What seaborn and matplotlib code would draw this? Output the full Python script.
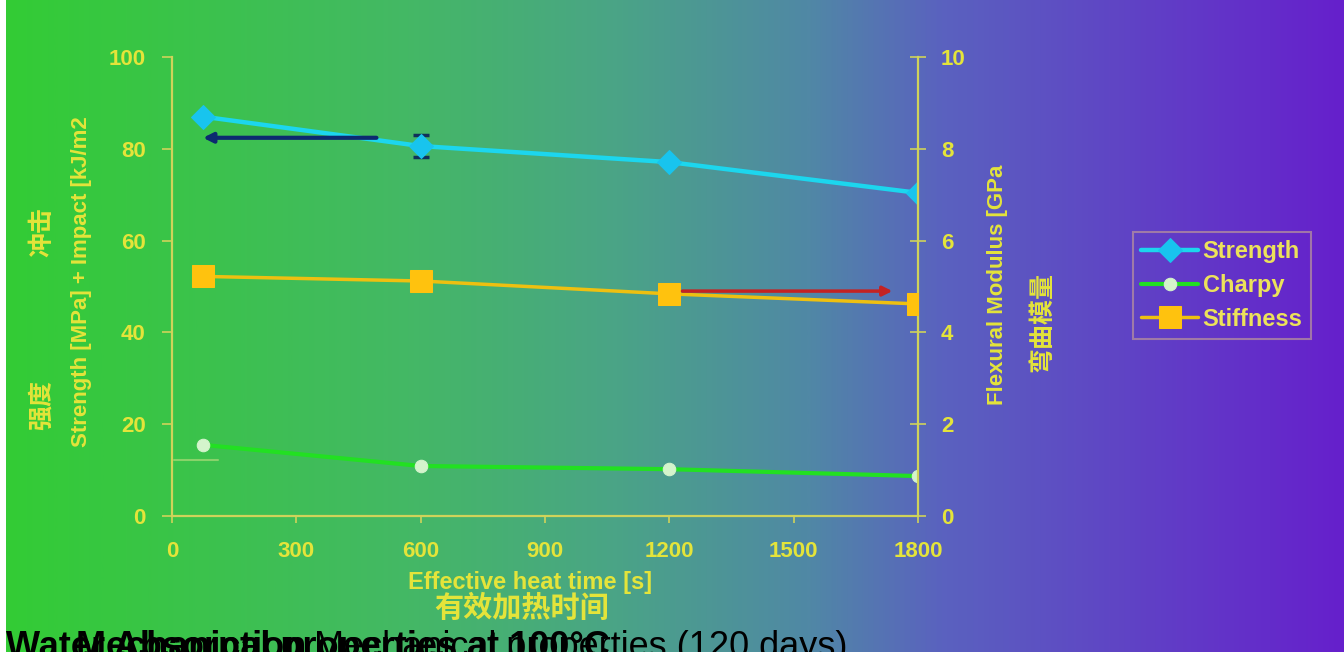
import numpy as np
import pandas as pd
import matplotlib
matplotlib.use('Agg')
import matplotlib.pyplot as plt
import seaborn as sns
from matplotlib.colors import LinearSegmentedColormap

sns.set_theme(style='white')
plt.rcParams['font.family'] = ['Liberation Sans', 'Noto Sans CJK SC', 'DejaVu Sans']
plt.rcParams['axes.unicode_minus'] = False

# 数据
heat_time = [75, 600, 1200, 1800]
strength = [87.0, 80.6, 77.1, 70.4]
charpy = [15.5, 10.9, 10.2, 8.7]
stiffness = [5.22, 5.12, 4.84, 4.62]
strength_err = [0, 2.3, 0, 0]

# 图中的两条箭头和一条淡线
blue_arrow_x = [500, 68]
blue_arrow_y = 82.4
red_arrow_x = [1225, 1745]
red_arrow_y = 4.9
faint_x = [5, 110]
faint_y = 12.3

x_ticks = [0, 300, 600, 900, 1200, 1500, 1800]
left_ticks = [0, 20, 40, 60, 80, 100]
right_ticks = [0, 2, 4, 6, 8, 10]

df = pd.DataFrame({'time': heat_time, 'Strength': strength,
                   'Charpy': charpy, 'Stiffness': stiffness})

W, H = 1344, 652
fig = plt.figure(figsize=(W / 100, H / 100), dpi=100, facecolor='white')

# 背景渐变
bg = fig.add_axes([6 / W, 0, 1 - 6 / W, 1], zorder=0)
cmap = LinearSegmentedColormap.from_list('bg', [
    (0.0, '#33cc35'), (0.3, '#44b865'), (0.45, '#4aa585'),
    (0.6, '#5088a5'), (0.7, '#5a62bf'), (1.0, '#6620cc')])
bg.imshow(np.linspace(0, 1, 512)[None, :], aspect='auto', cmap=cmap,
          extent=[0, 1, 0, 1])
bg.axis('off')

yellow = '#e4e43a'
spine_c = '#cfd35a'
cjk = ['Noto Sans CJK SC', 'DejaVu Sans']

ax = fig.add_axes([172 / W, 1 - 516 / H, (918 - 172) / W, (516 - 57) / H], zorder=1)
ax.patch.set_visible(False)
ax2 = ax.twinx()
ax2.patch.set_visible(False)

ax.errorbar(heat_time, strength, yerr=strength_err, fmt='none', ecolor='#10305a',
            elinewidth=2.5, capsize=6, capthick=2.5, zorder=2)
sns.lineplot(data=df, x='time', y='Strength', ax=ax, color='#1cd6ee', lw=3.2,
             marker='D', markersize=12, markerfacecolor='#18c4ee',
             markeredgecolor='#18c4ee', label='Strength', zorder=3)
sns.lineplot(data=df, x='time', y='Charpy', ax=ax, color='#22e022', lw=3,
             marker='o', markersize=9, markerfacecolor='#d4f4cc',
             markeredgecolor='#d4f4cc', label='Charpy', zorder=3)
sns.lineplot(data=df, x='time', y='Stiffness', ax=ax2, color='#eec010', lw=2.5,
             marker='s', markersize=16, markerfacecolor='#ffc20e',
             markeredgecolor='#ffc20e', label='Stiffness', zorder=3)

ax.plot(faint_x, [faint_y, faint_y], color='#e8e890', lw=1.5, alpha=0.45, zorder=2)
ax.annotate('', xy=(blue_arrow_x[1], blue_arrow_y), xytext=(blue_arrow_x[0], blue_arrow_y),
            arrowprops=dict(arrowstyle='-|>', color='#0c2a70', lw=3, mutation_scale=14))
ax2.annotate('', xy=(red_arrow_x[1], red_arrow_y), xytext=(red_arrow_x[0], red_arrow_y),
             arrowprops=dict(arrowstyle='-|>', color='#c42222', lw=2.5, mutation_scale=14))

ax.set_xlim(0, 1800)
ax.set_ylim(0, 100)
ax2.set_ylim(0, 10)
ax.set_xticks(x_ticks)
ax.set_yticks(left_ticks)
ax2.set_yticks(right_ticks)

for a in (ax, ax2):
    a.set_xlabel('')
    a.set_ylabel('')
    if a.get_legend() is not None:
        a.get_legend().remove()
    a.spines['top'].set_visible(False)
    for s in a.spines.values():
        s.set_color(spine_c)
        s.set_linewidth(1.6)
ax.spines['right'].set_visible(False)
ax2.spines['left'].set_visible(False)
ax2.spines['bottom'].set_visible(False)

ax.tick_params(axis='y', direction='out', length=7, width=1.2, color=spine_c,
               pad=12, labelsize=16, labelcolor=yellow, left=True)
ax.tick_params(axis='x', direction='out', length=5, width=1.2, color=spine_c,
               pad=13, labelsize=16, labelcolor=yellow, bottom=True)
ax2.tick_params(axis='y', direction='inout', length=11, width=1.2, color=spine_c,
                pad=11, labelsize=16, labelcolor=yellow, right=True)
for lab in ax.get_xticklabels() + ax.get_yticklabels() + ax2.get_yticklabels():
    lab.set_fontweight('bold')

# 坐标轴标题
fig.text(530 / W, 1 - 583 / H, 'Effective heat time [s]', color=yellow, fontsize=17,
         fontweight='bold', ha='center', va='center')
fig.text(522 / W, 1 - 608 / H, '有效加热时间', color=yellow, fontsize=21,
         fontweight='bold', ha='center', va='center', family=cjk)
fig.text(82 / W, 1 - 282 / H, 'Strength [MPa] + Impact [kJ/m2', color=yellow,
         fontsize=16, fontweight='bold', rotation=90, ha='center', va='center')
fig.text(42 / W, 1 - 232 / H, '冲击', color=yellow, fontsize=18, fontweight='bold',
         rotation=90, ha='center', va='center', family=cjk)
fig.text(42 / W, 1 - 405 / H, '强度', color=yellow, fontsize=18, fontweight='bold',
         rotation=90, ha='center', va='center', family=cjk)
fig.text(997 / W, 1 - 285 / H, 'Flexural Modulus [GPa', color=yellow, fontsize=16,
         fontweight='bold', rotation=90, ha='center', va='center')
fig.text(1042 / W, 1 - 322 / H, '弯曲模量', color=yellow, fontsize=18,
         fontweight='bold', rotation=90, ha='center', va='center', family=cjk)

# 图例
h1, l1 = ax.get_legend_handles_labels()
h2, l2 = ax2.get_legend_handles_labels()
leg = fig.legend(h1 + h2, l1 + l2, loc='upper left',
                 bbox_to_anchor=(1133 / W, 1 - 232 / H), borderaxespad=0,
                 frameon=True, fancybox=False, facecolor='none',
                 edgecolor='#b08aa0', fontsize=17, handlelength=2.4,
                 handletextpad=0.2, labelspacing=0.45, borderpad=0.35)
leg.get_frame().set_linewidth(1.5)
for t in leg.get_texts():
    t.set_color('#ece25a')
    t.set_fontweight('bold')

# 底部重叠的标题文字（原图即为重叠）
fig.text(6 / W, -5 / H, 'Water Absorption', color='black', fontsize=26,
         fontweight='bold', ha='left', va='baseline')
fig.text(76 / W, -5 / H, 'Mechanical properties at 100°C', color='black',
         fontsize=26, fontweight='bold', ha='left', va='baseline')
fig.text(314 / W, -5 / H, 'Mechanical properties (120 days)', color='black',
         fontsize=26, ha='left', va='baseline')

fig.savefig('out.png', dpi=100)
